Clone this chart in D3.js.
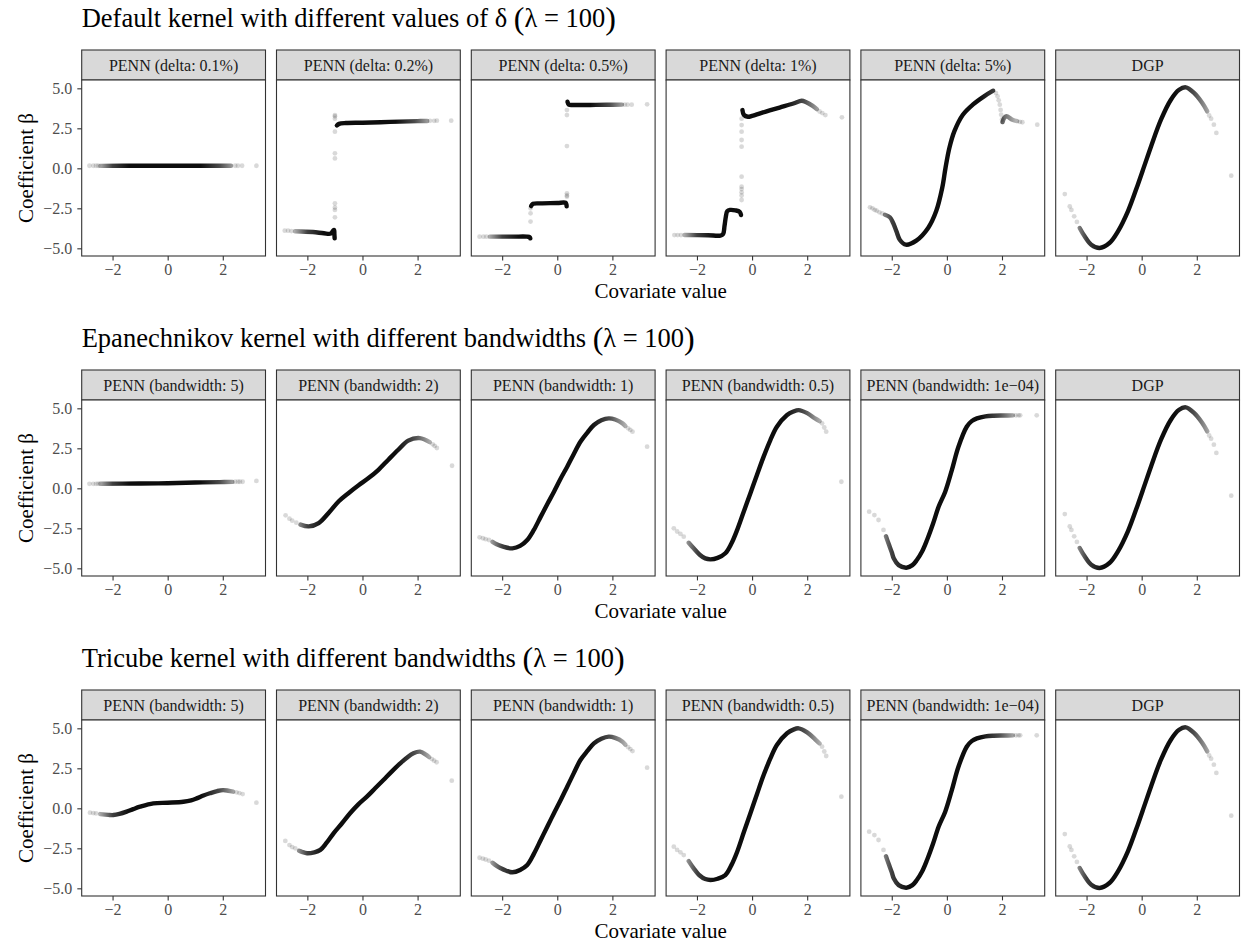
<!DOCTYPE html>
<html>
<head>
<meta charset="utf-8">
<script src="https://cdn.jsdelivr.net/npm/d3@7"></script>
<style>
    body { margin: 0; background: #fff; }
    svg text { font-family: "Liberation Serif", "Times New Roman", serif; }
</style>
</head>
<body>
<div id="id_plot"></div>
<script>
// axis ticks and labels
var xTicks = [-2, 0, 2];
var yTicks = [-5, -2.5, 0, 2.5, 5];
var xDomain = [-3.12, 3.55];
var yDomain = [-5.48, 5.52];

var rowTitles = [
    ["Default kernel with different values of δ ", "λ = 100"],
    ["Epanechnikov kernel with different bandwidths ", "λ = 100"],
    ["Tricube kernel with different bandwidths ", "λ = 100"]
];
var deltaLabels = ["PENN (delta: 0.1%)", "PENN (delta: 0.2%)", "PENN (delta: 0.5%)",
    "PENN (delta: 1%)", "PENN (delta: 5%)", "DGP"];
var bandLabels = ["PENN (bandwidth: 5)", "PENN (bandwidth: 2)", "PENN (bandwidth: 1)",
    "PENN (bandwidth: 0.5)", "PENN (bandwidth: 1e\u221204)", "DGP"];

// ---- data: dense runs of points + isolated points ----
// DGP (same in every row)
var dgpCurve = [[[-2.25, -3.73], [-2.07, -4.25], [-1.83, -4.77], [-1.53, -4.98], [-1.17, -4.67],
    [-0.86, -3.94], [-0.5, -2.69], [-0.14, -1.02], [0.09, 0.12], [0.34, 1.37], [0.7, 3.04],
    [1.06, 4.29], [1.36, 4.91], [1.6, 5.06], [1.9, 4.71], [2.2, 4.08], [2.38, 3.56]]];
var dgpDots = [[-2.79, -1.61], [-2.61, -2.38], [-2.55, -2.6], [-2.45, -3.0], [-2.35, -3.35],
    [2.45, 3.3], [2.52, 3.1], [2.62, 2.73], [2.71, 2.21], [3.25, -0.46]];

// default kernel, delta values
var delta01Curve = [[[-2.45, 0.15], [-1, 0.16], [0, 0.16], [1, 0.16], [2.3, 0.16]]];
var delta01Dots = [[-2.84, 0.16], [-2.7, 0.16], [-2.6, 0.16], [-2.52, 0.16],
    [2.45, 0.16], [2.55, 0.16], [2.7, 0.16], [3.22, 0.16]];

var delta02Curve = [
    [[-2.45, -3.93], [-1.8, -3.98], [-1.4, -4.06], [-1.15, -4.08], [-1.07, -3.9], [-1.03, -3.85],
        [-1.02, -4.1], [-1.01, -4.38]],
    [[-0.93, 2.68], [-0.85, 2.78], [-0.6, 2.83], [0, 2.85], [1, 2.9], [2.0, 2.95], [2.35, 2.96]]
];
var delta02Dots = [[-2.82, -3.9], [-2.7, -3.9], [-2.58, -3.92],
    [-1.0, -3.06], [-1.0, -2.6], [-1.0, -2.45], [-1.0, -2.19], [-1.0, 0.62], [-1.0, 0.94],
    [-1.0, 2.29], [-1.0, 3.1], [-1.0, 3.25], [-1.0, 3.33],
    [2.45, 2.97], [2.6, 2.97], [2.7, 2.98], [3.22, 2.98]];

var delta05Curve = [
    [[-2.45, -4.27], [-1.6, -4.27], [-1.1, -4.27], [-1.0, -4.3], [-0.98, -4.38]],
    [[-0.95, -2.36], [-0.88, -2.22], [-0.6, -2.19], [0, -2.17], [0.3, -2.15], [0.33, -2.25], [0.34, -2.38]],
    [[0.37, 4.16], [0.42, 3.98], [0.6, 3.96], [1.2, 3.96], [1.8, 3.97], [2.35, 3.98]]
];
var delta05Dots = [[-2.82, -4.27], [-2.68, -4.27], [-2.57, -4.27],
    [-0.97, -3.33], [-0.97, -2.81], [-0.97, -2.5],
    [0.35, -1.77], [0.35, -1.56], [0.35, -1.7], [0.35, 1.39], [0.35, 3.33], [0.35, 3.64],
    [2.45, 3.98], [2.55, 3.98], [2.7, 3.98], [3.26, 4.0]];

var delta1Curve = [
    [[-2.45, -4.17], [-1.6, -4.18], [-1.15, -4.2], [-1.05, -4.1], [-1.0, -3.6], [-0.95, -3.0],
        [-0.9, -2.68], [-0.8, -2.6], [-0.6, -2.63], [-0.45, -2.72], [-0.4, -2.92]],
    [[-0.35, 3.64], [-0.3, 3.35], [-0.15, 3.22], [0, 3.28], [0.5, 3.55], [1.0, 3.8], [1.5, 4.05],
        [1.8, 4.22], [1.95, 4.15], [2.2, 3.9], [2.35, 3.7]]
];
var delta1Dots = [[-2.82, -4.17], [-2.7, -4.17], [-2.58, -4.17],
    [-0.38, -1.98], [-0.38, -1.7], [-0.38, -1.5], [-0.38, -1.3], [-0.38, -1.15], [-0.38, -0.52],
    [-0.38, 1.35], [-0.38, 1.77], [-0.38, 2.29], [-0.38, 2.7], [-0.38, 3.1],
    [2.45, 3.55], [2.55, 3.45], [2.66, 3.33], [3.26, 3.19]];

var delta5Curve = [
    [[-2.25, -2.9], [-2.07, -3.06], [-1.95, -3.42], [-1.83, -3.94], [-1.71, -4.46], [-1.49, -4.77],
        [-1.11, -4.52], [-0.68, -3.73], [-0.39, -2.69], [-0.17, -1.23], [-0.05, 0.02], [0.09, 1.27],
        [0.27, 2.31], [0.58, 3.35], [0.94, 3.98], [1.35, 4.5], [1.68, 4.85]],
    [[2.02, 2.89], [2.08, 3.15], [2.16, 3.25], [2.38, 3.04], [2.55, 2.95]]
];
var delta5Dots = [[-2.79, -2.44], [-2.7, -2.5], [-2.62, -2.6], [-2.55, -2.65], [-2.45, -2.75], [-2.35, -2.82],
    [1.78, 4.7], [1.84, 4.5], [1.88, 4.25], [1.92, 3.98], [1.95, 3.65], [1.97, 3.35], [2.0, 3.05],
    [2.65, 2.9], [2.74, 2.88], [3.28, 2.73]];

// Epanechnikov kernel, bandwidths
var epa5Curve = [[[-2.45, 0.29], [-1, 0.3], [0, 0.32], [1, 0.36], [1.9, 0.39], [2.35, 0.4]]];
var epa5Dots = [[-2.84, 0.28], [-2.7, 0.28], [-2.6, 0.28], [-2.52, 0.29],
    [2.45, 0.41], [2.55, 0.41], [2.62, 0.41], [2.72, 0.41], [3.22, 0.46]];

var epa2Curve = [[[-2.25, -2.27], [-1.95, -2.38], [-1.59, -2.17], [-1.23, -1.54], [-0.86, -0.81],
    [-0.5, -0.29], [-0.14, 0.19], [0.22, 0.64], [0.58, 1.16], [0.94, 1.79], [1.3, 2.41],
    [1.66, 2.98], [2.08, 3.14], [2.44, 2.89]]];
var epa2Dots = [[-2.79, -1.69], [-2.65, -1.9], [-2.55, -2.02], [-2.4, -2.15],
    [2.55, 2.75], [2.62, 2.65], [2.7, 2.52], [3.25, 1.41]];

var epa1Curve = [[[-2.35, -3.35], [-2.2, -3.5], [-2.05, -3.6], [-1.85, -3.7], [-1.63, -3.75], [-1.35, -3.6], [-1.09, -3.23],
    [-0.85, -2.6], [-0.6, -1.77], [-0.35, -0.95], [-0.12, -0.21], [0.12, 0.6], [0.36, 1.35],
    [0.6, 2.15], [0.84, 2.91], [1.1, 3.5], [1.33, 3.96], [1.6, 4.25], [1.87, 4.37], [2.1, 4.3],
    [2.37, 4.06], [2.47, 3.9]]];
var epa1Dots = [[-2.82, -3.06], [-2.7, -3.12], [-2.6, -3.18], [-2.48, -3.23],
    [2.57, 3.75], [2.65, 3.65], [2.73, 3.54], [3.26, 2.6]];

var epa05Curve = [[[-2.3, -3.4], [-2.12, -3.75], [-1.9, -4.15], [-1.7, -4.38], [-1.51, -4.44], [-1.25, -4.35],
    [-0.97, -4.06], [-0.75, -3.45], [-0.54, -2.6], [-0.3, -1.45], [-0.06, -0.31], [0.18, 0.85],
    [0.42, 1.98], [0.66, 3.0], [0.9, 3.85], [1.27, 4.58], [1.5, 4.8], [1.69, 4.89], [2.0, 4.7],
    [2.3, 4.35], [2.45, 4.2]]];
var epa05Dots = [[-2.84, -2.5], [-2.72, -2.7], [-2.6, -2.85], [-2.48, -3.02],
    [2.54, 4.06], [2.62, 3.8], [2.69, 3.54], [3.24, 0.41]];

var epaTinyCurve = [[[-2.21, -3.0], [-2.12, -3.44], [-2.0, -4.0], [-1.93, -4.37], [-1.75, -4.8], [-1.47, -4.96], [-1.25, -4.8],
    [-1.09, -4.48], [-0.9, -3.95], [-0.72, -3.23], [-0.5, -2.2], [-0.3, -1.15], [-0.06, -0.21],
    [0.18, 1.14], [0.42, 2.6], [0.72, 3.85], [0.9, 4.2], [1.09, 4.37], [1.4, 4.5], [1.69, 4.54],
    [2.1, 4.55], [2.4, 4.56]]];
var epaTinyDots = [[-2.82, -1.46], [-2.63, -1.67], [-2.48, -1.98], [-2.3, -2.6],
    [2.5, 4.56], [2.6, 4.56], [2.66, 4.56], [3.26, 4.56]];

// Tricube kernel, bandwidths
var tri5Curve = [[[-2.45, -0.36], [-2.15, -0.41], [-1.97, -0.42], [-1.75, -0.35], [-1.49, -0.21], [-1.25, -0.05],
    [-1.0, 0.1], [-0.52, 0.31], [0, 0.35], [0.57, 0.41], [0.85, 0.5], [1.05, 0.62], [1.3, 0.8],
    [1.53, 0.94], [1.8, 1.08], [2.01, 1.14], [2.2, 1.1], [2.38, 1.04]]];
var tri5Dots = [[-2.82, -0.27], [-2.7, -0.3], [-2.6, -0.32],
    [2.5, 1.0], [2.6, 0.95], [2.72, 0.89], [3.22, 0.35]];

var tri2Curve = [[[-2.3, -2.65], [-2.2, -2.72], [-2.01, -2.81], [-1.75, -2.75], [-1.53, -2.6], [-1.3, -2.15],
    [-1.05, -1.56], [-0.75, -0.95], [-0.45, -0.31], [-0.15, 0.25], [0.16, 0.73], [0.46, 1.25],
    [0.76, 1.77], [1.05, 2.28], [1.37, 2.81], [1.6, 3.15], [1.85, 3.44], [2.09, 3.54], [2.3, 3.35], [2.42, 3.2]]];
var tri2Dots = [[-2.8, -2.04], [-2.65, -2.3], [-2.55, -2.42], [-2.44, -2.5],
    [2.52, 3.08], [2.6, 2.98], [2.69, 2.88], [3.24, 1.73]];

var tri1Curve = [[[-2.35, -3.4], [-2.2, -3.6], [-2.05, -3.75], [-1.85, -3.9], [-1.63, -4.0], [-1.35, -3.85], [-1.09, -3.54],
    [-0.85, -2.85], [-0.6, -1.98], [-0.35, -1.1], [-0.12, -0.31], [0.12, 0.5], [0.36, 1.35],
    [0.6, 2.2], [0.84, 3.02], [1.1, 3.6], [1.33, 4.06], [1.6, 4.35], [1.87, 4.48], [2.1, 4.4],
    [2.37, 4.16], [2.47, 3.98]]];
var tri1Dots = [[-2.82, -3.09], [-2.7, -3.15], [-2.6, -3.2], [-2.48, -3.27],
    [2.57, 3.82], [2.65, 3.7], [2.73, 3.58], [3.26, 2.54]];

var tri05Curve = [[[-2.3, -3.3], [-2.12, -3.75], [-1.9, -4.2], [-1.7, -4.42], [-1.51, -4.48], [-1.25, -4.4],
    [-0.97, -4.17], [-0.75, -3.55], [-0.54, -2.71], [-0.3, -1.5], [-0.06, -0.31], [0.18, 0.9],
    [0.42, 2.08], [0.66, 3.1], [0.9, 3.96], [1.27, 4.69], [1.5, 4.92], [1.69, 5.0], [2.0, 4.75],
    [2.3, 4.3], [2.45, 4.05]]];
var tri05Dots = [[-2.84, -2.4], [-2.72, -2.6], [-2.6, -2.75], [-2.48, -2.92],
    [2.54, 3.85], [2.62, 3.55], [2.69, 3.27], [3.24, 0.73]];

var triTinyCurve = [[[-2.21, -3.0], [-2.12, -3.44], [-2.0, -4.0], [-1.93, -4.37], [-1.75, -4.8], [-1.47, -4.96], [-1.25, -4.8],
    [-1.09, -4.48], [-0.9, -3.95], [-0.72, -3.23], [-0.5, -2.2], [-0.3, -1.15], [-0.06, -0.21],
    [0.18, 1.14], [0.42, 2.6], [0.72, 3.85], [0.9, 4.2], [1.09, 4.37], [1.4, 4.5], [1.69, 4.54],
    [2.1, 4.55], [2.4, 4.56]]];
var triTinyDots = [[-2.82, -1.46], [-2.63, -1.67], [-2.48, -1.98], [-2.3, -2.6],
    [2.5, 4.56], [2.6, 4.56], [2.66, 4.56], [3.26, 4.56]];

var rows = [
    {labels: deltaLabels,
        curves: [delta01Curve, delta02Curve, delta05Curve, delta1Curve, delta5Curve, dgpCurve],
        dots: [delta01Dots, delta02Dots, delta05Dots, delta1Dots, delta5Dots, dgpDots]},
    {labels: bandLabels,
        curves: [epa5Curve, epa2Curve, epa1Curve, epa05Curve, epaTinyCurve, dgpCurve],
        dots: [epa5Dots, epa2Dots, epa1Dots, epa05Dots, epaTinyDots, dgpDots]},
    {labels: bandLabels,
        curves: [tri5Curve, tri2Curve, tri1Curve, tri05Curve, triTinyCurve, dgpCurve],
        dots: [tri5Dots, tri2Dots, tri1Dots, tri05Dots, triTinyDots, dgpDots]}
];

drawFigure();

function fmt(d, digits) {
    var s = Math.abs(d).toFixed(digits);
    return d < 0 ? "\u2212" + s : s;
}

function drawFigure() {
    var svgWidth = 1241, svgHeight = 945;
    var panelLeft = 81.7, panelW = 183.8, gap = 11;
    var stripTops = [50, 370, 690];
    var stripH = 30, panelH = 176;

    var svg = d3.select("#id_plot").append("svg")
        .attr("width", svgWidth)
        .attr("height", svgHeight);

    var x = d3.scaleLinear().domain(xDomain).range([0, panelW]);
    var y = d3.scaleLinear().domain(yDomain).range([panelH, 0]);
    var line = d3.line()
        .x(function (d) { return x(d[0]); })
        .y(function (d) { return y(d[1]); })
        .curve(d3.curveCatmullRom.alpha(0.5));

    // points thin out in the tails of the covariate, so the runs fade there
    var fade = svg.append("defs").append("linearGradient")
        .attr("id", "fade")
        .attr("gradientUnits", "userSpaceOnUse")
        .attr("x1", 0).attr("x2", panelW).attr("y1", 0).attr("y2", 0);
    [[-2.5, 0.3], [-2.0, 0.75], [-1.4, 0.95], [1.2, 0.95], [1.9, 0.7], [2.5, 0.3]].forEach(function (s) {
        fade.append("stop")
            .attr("offset", x(s[0]) / panelW)
            .attr("stop-color", "#000")
            .attr("stop-opacity", s[1]);
    });

    rows.forEach(function (row, r) {
        var top = stripTops[r];
        var pTop = top + stripH;

        // row title, with big parentheses like plotmath bgroup
        var title = svg.append("text")
            .attr("x", panelLeft)
            .attr("y", top - 23)
            .attr("font-size", 26.5)
            .attr("fill", "#000");
        title.append("tspan").text(rowTitles[r][0]);
        title.append("tspan").attr("font-size", 32).attr("dy", 1.5).text("(");
        title.append("tspan").attr("font-size", 26.5).attr("dy", -1.5).text(rowTitles[r][1]);
        title.append("tspan").attr("font-size", 32).attr("dy", 1.5).text(")");

        for (var i = 0; i < 6; i++) {
            var left = panelLeft + i * (panelW + gap);

            // strip
            var strip = svg.append("g").attr("transform", "translate(" + left + "," + top + ")");
            strip.append("rect")
                .attr("width", panelW).attr("height", stripH)
                .attr("fill", "#D9D9D9").attr("stroke", "#333333").attr("stroke-width", 1.1);
            strip.append("text")
                .attr("x", panelW / 2).attr("y", stripH / 2)
                .attr("dy", "0.35em")
                .attr("text-anchor", "middle")
                .attr("font-size", 16)
                .attr("fill", "#1A1A1A")
                .text(row.labels[i]);

            var g = svg.append("g").attr("transform", "translate(" + left + "," + pTop + ")");
            g.append("rect")
                .attr("width", panelW).attr("height", panelH)
                .attr("fill", "#fff");

            // isolated points
            g.selectAll("circle")
                .data(row.dots[i])
                .enter()
                .append("circle")
                .attr("cx", function (d) { return x(d[0]); })
                .attr("cy", function (d) { return y(d[1]); })
                .attr("r", 2.4)
                .attr("fill", "#000")
                .attr("fill-opacity", 0.15);

            // dense runs of points
            g.selectAll("path.run")
                .data(row.curves[i])
                .enter()
                .append("path")
                .attr("class", "run")
                .attr("d", line)
                .attr("fill", "none")
                .attr("stroke", "url(#fade)")
                .attr("stroke-width", 4.4)
                .attr("stroke-linecap", "round")
                .attr("stroke-linejoin", "round");

            g.append("rect")
                .attr("width", panelW).attr("height", panelH)
                .attr("fill", "none").attr("stroke", "#333333").attr("stroke-width", 1.1);

            // x axis
            var xa = g.append("g")
                .attr("transform", "translate(0," + panelH + ")")
                .call(d3.axisBottom(x).tickValues(xTicks).tickSize(4.4).tickPadding(3)
                    .tickFormat(function (d) { return fmt(d, 0); }));
            xa.select(".domain").remove();
            xa.selectAll("line").attr("stroke", "#333333").attr("stroke-width", 1.1);
            xa.selectAll("text").attr("font-size", 16).attr("fill", "#4D4D4D")
                .attr("font-family", "Liberation Serif");

            if (i === 0) {
                var ya = g.append("g")
                    .call(d3.axisLeft(y).tickValues(yTicks).tickSize(4.4).tickPadding(5)
                        .tickFormat(function (d) { return fmt(d, 1); }));
                ya.select(".domain").remove();
                ya.selectAll("line").attr("stroke", "#333333").attr("stroke-width", 1.1);
                ya.selectAll("text").attr("font-size", 16).attr("fill", "#4D4D4D")
                    .attr("font-family", "Liberation Serif");
            }
        }

        // axis titles
        svg.append("text")
            .attr("x", (panelLeft + panelLeft + 6 * panelW + 5 * gap) / 2)
            .attr("y", pTop + panelH + 42)
            .attr("text-anchor", "middle")
            .attr("font-size", 21)
            .text("Covariate value");

        svg.append("text")
            .attr("transform", "translate(33," + (pTop + panelH / 2) + ") rotate(-90)")
            .attr("text-anchor", "middle")
            .attr("font-size", 21)
            .text("Coefficient \u03b2");
    });
}
</script>
</body>
</html>
